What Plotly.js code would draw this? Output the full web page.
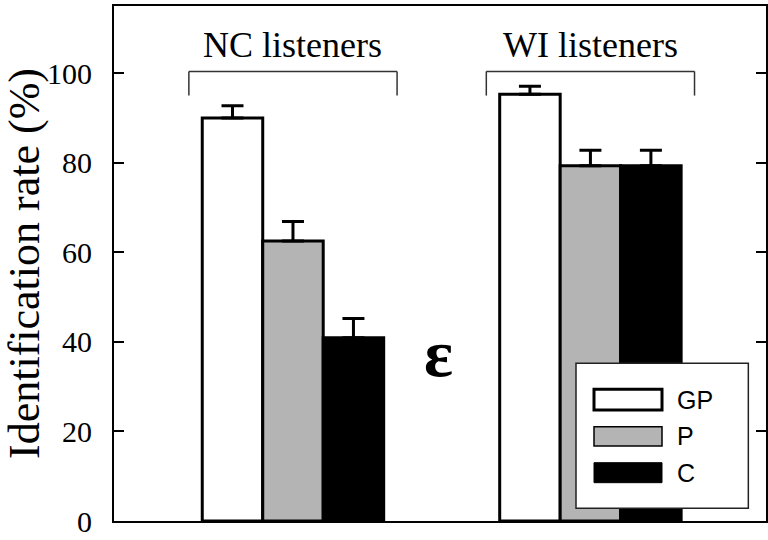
<!DOCTYPE html>
<html>
<head>
<meta charset="utf-8">
<script src="https://cdn.plot.ly/plotly-3.0.1.min.js"></script>
<style>
  html, body { margin: 0; padding: 0; background: #ffffff; }
  #chart { width: 768px; height: 540px; }
</style>
</head>
<body>
<div id="chart"></div>
<script>
// Listener groups and identification rates (%) per condition
const groups = ['NC listeners', 'WI listeners'];
const seriesNames = ['GP', 'P', 'C'];
const gpValues = [90.0, 95.3];
const pValues = [62.5, 79.3];
const cValues = [40.9, 79.3];
const gpErrors = [2.7, 1.8];
const pErrors = [4.4, 3.5];
const cErrors = [4.3, 3.5];
const yTicks = [0, 20, 40, 60, 80, 100];
const vowelLabel = 'ε';

const fills = { GP: '#ffffff', P: '#b4b4b4', C: '#000000' };
const serif = 'Liberation Serif, Times New Roman, serif';
const sans = 'Liberation Sans, Arial, sans-serif';

function barTrace(name, values, errors) {
  return {
    type: 'bar',
    name: name,
    x: groups,
    y: values,
    marker: { color: fills[name], line: { color: '#000000', width: 3 } },
    error_y: {
      type: 'data',
      symmetric: false,
      array: errors,
      arrayminus: errors.map(() => 0),
      color: '#000000',
      thickness: 3,
      width: 11
    },
    hoverinfo: 'skip'
  };
}

const traces = seriesNames.map((name, k) =>
  barTrace(name, [gpValues, pValues, cValues][k], [gpErrors, pErrors, cErrors][k]));

// Brackets over each listener group
const bracketHalf = 0.35;
const bracketTop = 100.4;
const bracketFoot = 95;
const shapes = [];
groups.forEach((g, i) => {
  const line = { color: '#333333', width: 1.5 };
  shapes.push({ type: 'line', xref: 'x', yref: 'y', x0: i - bracketHalf, x1: i + bracketHalf, y0: bracketTop, y1: bracketTop, line });
  shapes.push({ type: 'line', xref: 'x', yref: 'y', x0: i - bracketHalf, x1: i - bracketHalf, y0: bracketTop, y1: bracketFoot, line });
  shapes.push({ type: 'line', xref: 'x', yref: 'y', x0: i + bracketHalf, x1: i + bracketHalf, y0: bracketTop, y1: bracketFoot, line });
});

// Key box with swatches, drawn over the bars
const key = { x0: 0.7086, x1: 0.9729, y0: 0.0247, y1: 0.3062 };
shapes.push({ type: 'rect', xref: 'paper', yref: 'paper', x0: key.x0, x1: key.x1, y0: key.y0, y1: key.y1,
  fillcolor: '#ffffff', line: { color: '#222222', width: 1.5 }, layer: 'above' });
const swatchRows = [
  { name: 'GP', y0: 0.2155, y1: 0.2557, lw: 3 },
  { name: 'P', y0: 0.1456, y1: 0.1831, lw: 1.5 },
  { name: 'C', y0: 0.0744, y1: 0.1132, lw: 1 }
];
const annotations = [];
swatchRows.forEach(r => {
  shapes.push({ type: 'rect', xref: 'paper', yref: 'paper', x0: 0.7362, x1: 0.8405, y0: r.y0, y1: r.y1,
    fillcolor: fills[r.name], line: { color: '#000000', width: r.lw }, layer: 'above' });
  annotations.push({ xref: 'paper', yref: 'paper', x: 0.861, y: (r.y0 + r.y1) / 2, xanchor: 'left', yanchor: 'middle',
    text: r.name, showarrow: false, font: { family: sans, size: 25, color: '#000000' } });
});

// Group labels and the vowel marker
groups.forEach((g, i) => {
  annotations.push({ xref: 'x', yref: 'paper', x: i, y: 0.925, xanchor: 'center', yanchor: 'middle',
    text: g, showarrow: false, font: { family: serif, size: 36, color: '#000000' } });
});
annotations.push({ xref: 'x', yref: 'y', x: 0.49, y: 37.5, xanchor: 'center', yanchor: 'middle',
  text: vowelLabel, showarrow: false, font: { family: serif, size: 68, color: '#000000', weight: 'bold' } });

const layout = {
  width: 768,
  height: 540,
  margin: { l: 114, r: 2, t: 6, b: 19, pad: 0 },
  paper_bgcolor: '#ffffff',
  plot_bgcolor: '#ffffff',
  showlegend: false,
  barmode: 'group',
  bargap: 0.39,
  bargroupgap: 0,
  xaxis: {
    type: 'category',
    range: [-0.6017, 1.5903],
    showticklabels: false,
    ticks: '',
    showgrid: false,
    zeroline: false,
    showline: true,
    linecolor: '#000000',
    linewidth: 2,
    mirror: true,
    fixedrange: true
  },
  yaxis: {
    range: [0, 115],
    tickvals: yTicks,
    ticktext: yTicks.map(String),
    ticks: 'inside',
    ticklen: 10,
    tickwidth: 2,
    tickcolor: '#000000',
    ticklabelstandoff: 14,
    showgrid: false,
    zeroline: false,
    showline: true,
    linecolor: '#000000',
    linewidth: 2,
    mirror: 'ticks',
    tickfont: { family: serif, size: 30, color: '#000000' },
    title: { text: 'Identification rate (%)', font: { family: serif, size: 44, color: '#000000' }, standoff: 4 },
    fixedrange: true
  },
  shapes: shapes,
  annotations: annotations
};

Plotly.newPlot('chart', traces, layout, { displayModeBar: false, staticPlot: true });
</script>
</body>
</html>
